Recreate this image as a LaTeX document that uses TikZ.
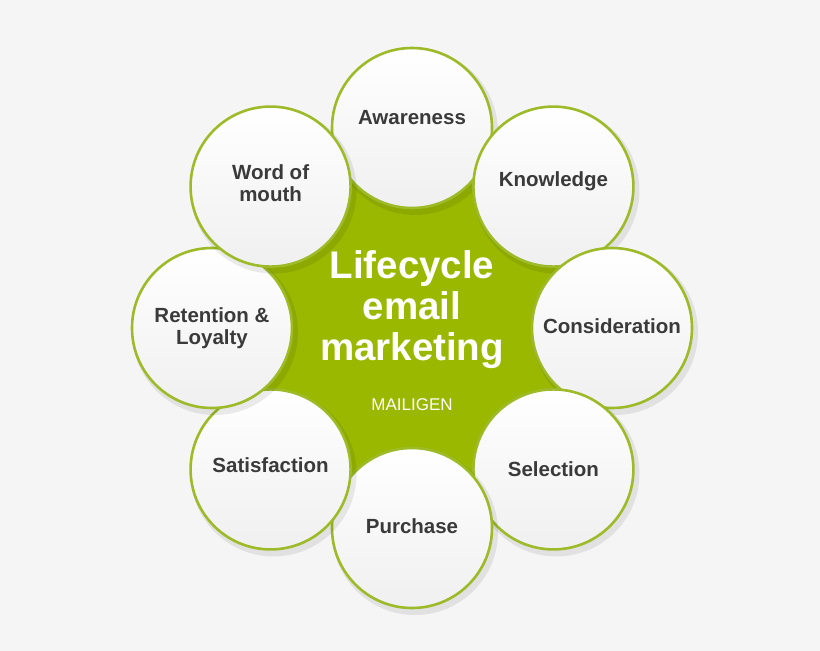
\documentclass[tikz,border=0pt]{standalone}
\usepackage{fontspec}
\setmainfont{Liberation Sans}
\usetikzlibrary{calc}
\begin{document}
\begin{tikzpicture}[x=1pt,y=-1pt,
  ring/.style={circle,draw=ringc,line width=2.6pt,minimum size=160pt,inner sep=0pt,
    top color=white,bottom color=gray!12,align=center,text=txt,
    font=\fontsize{20.5}{22}\selectfont\bfseries},
]
\definecolor{bgc}{HTML}{F5F5F5}
\definecolor{ringc}{HTML}{9DBA28}
\definecolor{greenc}{HTML}{9AB800}
\definecolor{txt}{HTML}{3A3A3A}
\fill[bgc] (0,0) rectangle (820,651);
\useasboundingbox (0,0) rectangle (820,651);
\fill[greenc] (412,328) circle (160);
\foreach \n/\a/\t/\dy in {aw/-90/Awareness/-10, kn/-45/Knowledge/-5, co/0/Consideration/-2, se/45/Selection/0, pu/90/Purchase/-2, sa/135/Satisfaction/-4, re/180/{Retention \&\\Loyalty}/0, wm/225/{Word of\\mouth}/-3}{
  \fill[black,opacity=0.08] ($(412,328)+(\a:200)+(3,4)$) circle (83);
  \node[ring] (\n) at ($(412,328)+(\a:200)$) {};
  \node[align=center,text=txt,font=\fontsize{20.5}{22}\selectfont\bfseries] (\n t) at ($(\n)+(0,\dy)$) {\t};
}
\node[text=white,align=center,font=\fontsize{38.5}{41}\selectfont\bfseries] (title) at (412,310) {Lifecycle\\email\\marketing};
\node[text=white,font=\fontsize{17}{18}\selectfont] (brand) at (412,405) {MAILIGEN};
\end{tikzpicture}
\end{document}
